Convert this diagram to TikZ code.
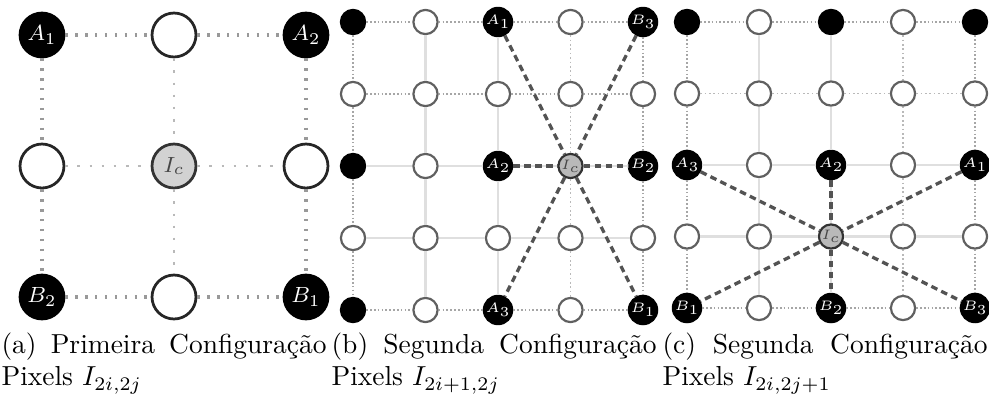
\documentclass[tikz,border=0pt]{standalone}
\usepackage{fontspec}
\usetikzlibrary{positioning}
\tikzset{
  light pix/.style={
    circle, draw=black!85, fill=white,
    line width=1pt, minimum size=16pt, inner sep=0pt,
  },
  dark pix/.style={
    circle, draw=black, fill=black, text=white,
    line width=1pt, minimum size=16pt, inner sep=0pt,
    font=\footnotesize,
  },
  centre pix/.style={
    circle, draw=black!80, fill=gray!35, text=gray!55!black,
    line width=1pt, minimum size=16pt, inner sep=0pt,
    font=\footnotesize,
  },
  small pix/.style={
    minimum size=8.8pt, line width=0.8pt,
    font=\fontsize{4}{4}\selectfont,
  },
  edge dots/.style={
    gray!80, line width=1.1pt, dash pattern=on 0.9pt off 2.7pt,
  },
  cross dots/.style={
    gray!55, line width=0.9pt, dash pattern=on 1pt off 3.4pt,
  },
  grid dots/.style={
    gray!70, line width=0.8pt, dash pattern=on 0.6pt off 0.8pt,
  },
  grid thin/.style={
    gray!55, line width=0.5pt, dash pattern=on 0.6pt off 1pt,
  },
  grid faint/.style={gray!25, line width=0.9pt},
  link/.style={
    gray!65!black, line width=1.2pt, dash pattern=on 2.4pt off 1.6pt,
  },
  caption text/.style={
    anchor=base west, text width=118.3pt, align=justify, inner sep=0pt,
  },
}

\begin{document}
\begin{tikzpicture}[x=0.364pt, y=-0.364pt]
\useasboundingbox (0,0) rectangle (989,405);

% --- (a) first configuration: 3x3 pixels ---
\node[dark pix]   (a00) at (42,35)   {$A_1$};
\node[light pix]  (a10) at (174,35)  {};
\node[dark pix]   (a20) at (306,35)  {$A_2$};
\node[light pix]  (a01) at (42,166)  {};
\node[centre pix] (a11) at (174,166) {$I_c$};
\node[light pix]  (a21) at (306,166) {};
\node[dark pix]   (a02) at (42,297)  {$B_2$};
\node[light pix]  (a12) at (174,297) {};
\node[dark pix]   (a22) at (306,297) {$B_1$};

\draw[edge dots] (a00) -- (a10);
\draw[edge dots] (a10) -- (a20);
\draw[edge dots] (a02) -- (a12);
\draw[edge dots] (a12) -- (a22);
\draw[edge dots] (a00) -- (a01);
\draw[edge dots] (a01) -- (a02);
\draw[edge dots] (a20) -- (a21);
\draw[edge dots] (a21) -- (a22);
\draw[cross dots] (a10) -- (a11);
\draw[cross dots] (a11) -- (a12);
\draw[cross dots] (a01) -- (a11);
\draw[cross dots] (a11) -- (a21);

% --- (b) second configuration: 5x5 pixels ---
\foreach \i in {0,...,4}
  \foreach \j in {0,...,4}{
    \pgfmathtruncatemacro\known{iseven(\i)*iseven(\j)+(\i==3)*(\j==2)}
    \ifnum\known=0
      \node[light pix, small pix, draw=gray!75!black]
        (b\i\j) at ({353+72.5*\i},{22+72*\j}) {};
    \fi
  }
\foreach \i/\j/\txt in {0/0/{},2/0/{$A_1$},4/0/{$B_3$},
                        0/2/{},2/2/{$A_2$},4/2/{$B_2$},
                        0/4/{},2/4/{$A_3$},4/4/{$B_1$}}
  \node[dark pix, small pix] (b\i\j) at ({353+72.5*\i},{22+72*\j}) {\txt};
\node[centre pix, small pix, fill=gray!55] (b32) at ({353+72.5*3},{22+72*2}) {$I_c$};

% rows, then columns
\foreach \i/\n in {0/1,1/2,2/3,3/4}{
  \foreach \j in {0,1,4}  \draw[grid dots]  (b\i\j) -- (b\n\j);
  \foreach \j in {2,3}    \draw[grid faint] (b\i\j) -- (b\n\j);
  \foreach \j in {0,4}    \draw[grid dots]  (b\j\i) -- (b\j\n);
  \foreach \j in {1,2}    \draw[grid faint] (b\j\i) -- (b\j\n);
  \draw[grid thin] (b3\i) -- (b3\n);
}

\draw[link] (b20) -- (b32);
\draw[link] (b32) -- (b44);
\draw[link] (b40) -- (b32);
\draw[link] (b32) -- (b24);
\draw[link] (b22) -- (b32);
\draw[link] (b32) -- (b42);

% --- (c) second configuration, other parity ---
\foreach \i in {0,...,4}
  \foreach \j in {0,...,4}{
    \pgfmathtruncatemacro\known{iseven(\i)*iseven(\j)+(\i==2)*(\j==3)}
    \ifnum\known=0
      \node[light pix, small pix, draw=gray!75!black]
        (c\i\j) at ({687+72*\i},{22+71.5*\j}) {};
    \fi
  }
\foreach \i/\j/\txt in {0/0/{},2/0/{},4/0/{},
                        0/2/{$A_3$},2/2/{$A_2$},4/2/{$A_1$},
                        0/4/{$B_1$},2/4/{$B_2$},4/4/{$B_3$}}
  \node[dark pix, small pix] (c\i\j) at ({687+72*\i},{22+71.5*\j}) {\txt};
\node[centre pix, small pix, fill=gray!55] (c23) at ({687+72*2},{22+71.5*3}) {$I_c$};

% rows, then columns
\foreach \i/\n in {0/1,1/2,2/3,3/4}{
  \foreach \j in {0,4}    \draw[grid dots]  (c\i\j) -- (c\n\j);
  \foreach \j in {2,3}    \draw[grid faint] (c\i\j) -- (c\n\j);
  \draw[grid thin] (c\i1) -- (c\n1);
  \foreach \j in {0,4}    \draw[grid dots]  (c\j\i) -- (c\j\n);
  \foreach \j in {1,2}    \draw[grid faint] (c\j\i) -- (c\j\n);
  \draw[grid thin] (c3\i) -- (c3\n);
}

\draw[link] (c02) -- (c23);
\draw[link] (c23) -- (c44);
\draw[link] (c42) -- (c23);
\draw[link] (c23) -- (c04);
\draw[link] (c22) -- (c23);
\draw[link] (c23) -- (c24);

% --- captions ---
\node[caption text] (capa) at (1,353)
  {(a) Primeira Configuração\linebreak Pixels $I_{2i,2j}$};
\node[caption text] (capb) at (331,353)
  {(b) Segunda Configuração\linebreak Pixels $I_{2i+1,2j}$};
\node[caption text] (capc) at (662,353)
  {(c) Segunda Configuração\linebreak Pixels $I_{2i,2j+1}$};

\end{tikzpicture}
\end{document}
